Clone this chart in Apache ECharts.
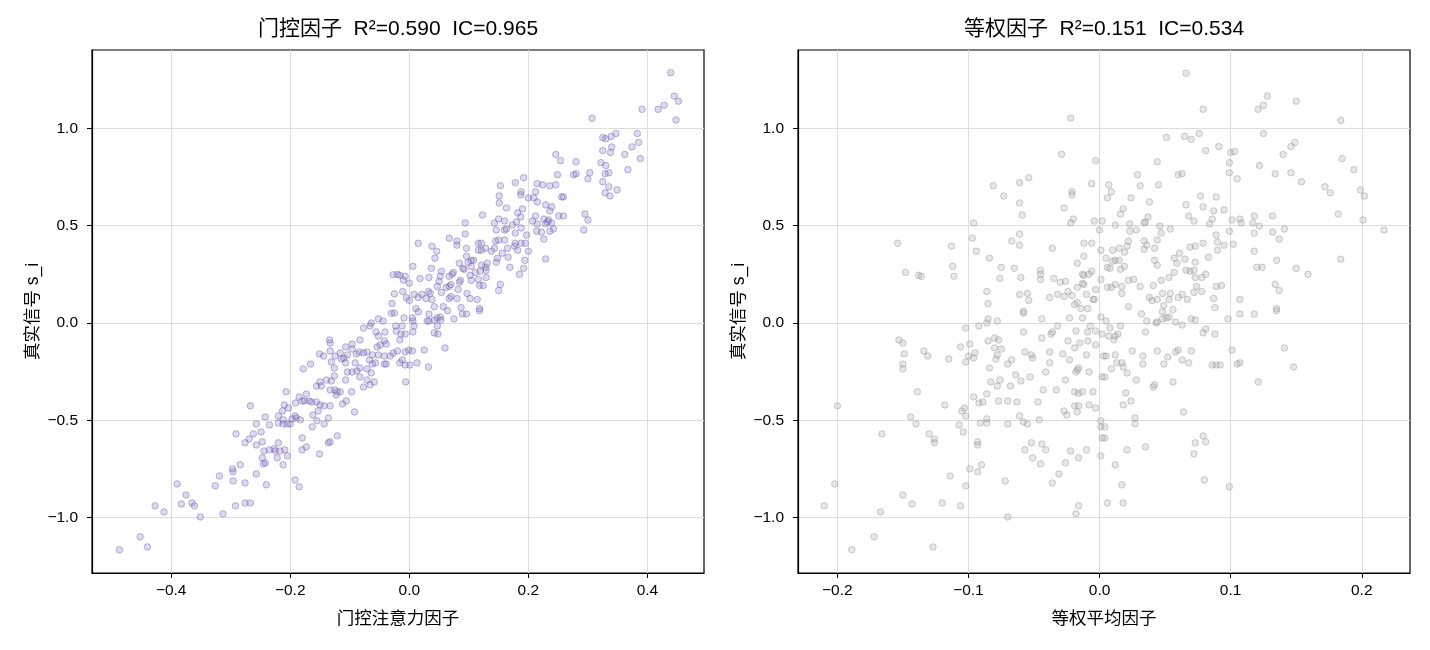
<!DOCTYPE html>
<html>
<head>
<meta charset="utf-8">
<script src="https://cdn.jsdelivr.net/npm/echarts@6/dist/echarts.min.js"></script>
<style>
  html, body { margin: 0; padding: 0; background: #fff; }
  #main { width: 1430px; height: 650px; }
</style>
</head>
<body>
<div id="main"></div>
<script>
// 左图：门控注意力因子 vs 真实信号
const gatedPoints = [
  [0.439,1.286],[0.445,1.166],[0.452,1.140],[0.448,1.043],[0.391,1.098],[0.418,1.098],[0.428,1.119],[0.307,1.052],
  [0.325,0.953],[0.330,0.947],[0.339,0.959],[0.347,0.974],[0.383,0.974],[0.374,0.905],[0.385,0.928],[0.388,0.845],
  [0.362,0.866],[0.367,0.788],[0.325,0.886],[0.340,0.905],[0.338,0.876],[0.322,0.824],[0.330,0.809],[0.335,0.772],
  [0.329,0.767],[0.325,0.726],[0.335,0.700],[0.349,0.684],[0.329,0.669],[0.337,0.653],[0.300,0.741],[0.303,0.772],
  [0.280,0.829],[0.280,0.767],[0.276,0.762],[0.254,0.834],[0.246,0.866],[0.249,0.762],[0.295,0.560],[0.300,0.529],
  [0.293,0.478],[0.256,0.648],[0.259,0.648],[0.251,0.550],[0.259,0.550],[0.246,0.710],[0.236,0.705],[0.224,0.710],
  [0.215,0.716],[0.212,0.674],[0.209,0.643],[0.200,0.643],[0.215,0.622],[0.229,0.607],[0.239,0.597],[0.236,0.576],
  [0.234,0.529],[0.226,0.534],[0.232,0.519],[0.239,0.514],[0.212,0.550],[0.207,0.524],[0.215,0.509],[0.229,0.509],
  [0.242,0.483],[0.236,0.472],[0.222,0.467],[0.214,0.472],[0.226,0.431],[0.229,0.329],[0.192,0.747],[0.178,0.721],
  [0.188,0.674],[0.187,0.659],[0.153,0.705],[0.151,0.653],[0.151,0.617],[0.163,0.591],[0.123,0.555],[0.190,0.586],
  [0.182,0.566],[0.187,0.545],[0.180,0.519],[0.173,0.503],[0.160,0.524],[0.150,0.534],[0.143,0.514],[0.163,0.483],
  [0.160,0.478],[0.146,0.478],[0.188,0.488],[0.178,0.462],[0.197,0.452],[0.094,0.514],[0.094,0.457],[0.067,0.436],
  [0.015,0.410],[0.080,0.421],[0.080,0.400],[0.038,0.395],[0.046,0.369],[0.043,0.333],[0.006,0.291],[0.096,0.384],
  [0.116,0.410],[0.121,0.410],[0.116,0.374],[0.121,0.374],[0.128,0.384],[0.138,0.369],[0.143,0.384],[0.145,0.421],
  [0.150,0.426],[0.160,0.426],[0.156,0.359],[0.166,0.338],[0.165,0.384],[0.177,0.395],[0.182,0.374],[0.178,0.410],
  [0.188,0.410],[0.195,0.410],[0.200,0.369],[0.194,0.322],[0.192,0.281],[0.185,0.250],[0.169,0.286],[0.148,0.333],
  [0.146,0.312],[0.131,0.307],[0.128,0.286],[0.129,0.271],[0.129,0.234],[0.119,0.266],[0.111,0.260],[0.104,0.291],
  [0.104,0.322],[0.108,0.322],[0.099,0.312],[0.096,0.343],[0.084,0.307],[0.121,0.297],[0.116,0.224],[0.124,0.193],
  [0.118,0.193],[0.104,0.219],[0.102,0.245],[0.092,0.276],[0.090,0.281],[0.086,0.219],[0.084,0.209],[0.082,0.172],
  [0.072,0.250],[0.074,0.260],[0.067,0.240],[0.054,0.266],[0.052,0.240],[0.050,0.214],[0.047,0.188],[0.037,0.281],
  [0.033,0.234],[0.018,0.229],[0.067,0.188],[0.062,0.183],[0.070,0.198],[0.054,0.157],[0.035,0.152],[0.032,0.162],
  [0.021,0.147],[0.008,0.147],[0.015,0.131],[0.028,0.126],[0.038,0.121],[0.067,0.126],[0.070,0.136],[0.080,0.126],
  [0.097,0.152],[0.102,0.126],[0.114,0.121],[0.087,0.079],[0.118,0.074],[0.057,0.084],[0.042,0.084],[0.011,0.074],
  [0.150,0.167],[0.153,0.198],[-0.011,0.162],[0.000,0.116],[-0.007,0.240],[-0.016,0.245],[-0.027,0.248],[-0.029,0.100],
  [-0.020,0.250],[-0.010,0.220],[0.000,0.205],[-0.025,0.150],[-0.005,0.130],[-0.030,0.050],
  [-0.487,-1.166],[-0.452,-1.099],[-0.440,-1.151],[-0.427,-0.940],[-0.412,-0.971],[-0.390,-0.827],[-0.383,-0.930],[-0.375,-0.884],
  [-0.365,-0.925],[-0.361,-0.940],[-0.351,-0.997],[-0.326,-0.837],[-0.319,-0.786],[-0.313,-0.981],[-0.297,-0.750],[-0.296,-0.765],
  [-0.296,-0.812],[-0.292,-0.940],[-0.284,-0.729],[-0.276,-0.822],[-0.276,-0.925],[-0.267,-0.925],[-0.291,-0.570],[-0.276,-0.616],
  [-0.269,-0.596],[-0.262,-0.570],[-0.267,-0.426],[-0.257,-0.776],[-0.257,-0.627],[-0.247,-0.611],[-0.249,-0.560],[-0.257,-0.519],
  [-0.242,-0.483],[-0.247,-0.693],[-0.245,-0.724],[-0.242,-0.719],[-0.240,-0.832],[-0.244,-0.658],[-0.235,-0.652],[-0.227,-0.647],
  [-0.225,-0.658],[-0.220,-0.616],[-0.217,-0.658],[-0.209,-0.652],[-0.222,-0.693],[-0.212,-0.729],[-0.205,-0.683],[-0.192,-0.807],
  [-0.185,-0.842],[-0.235,-0.524],[-0.220,-0.514],[-0.212,-0.498],[-0.220,-0.478],[-0.213,-0.452],[-0.210,-0.421],[-0.212,-0.519],
  [-0.205,-0.519],[-0.200,-0.519],[-0.197,-0.493],[-0.192,-0.478],[-0.190,-0.488],[-0.183,-0.498],[-0.203,-0.437],[-0.207,-0.354],
  [-0.191,-0.411],[-0.185,-0.380],[-0.180,-0.401],[-0.173,-0.365],[-0.176,-0.401],[-0.168,-0.401],[-0.164,-0.406],[-0.156,-0.406],
  [-0.162,-0.473],[-0.163,-0.534],[-0.155,-0.503],[-0.153,-0.452],[-0.150,-0.421],[-0.143,-0.426],[-0.136,-0.488],[-0.133,-0.426],
  [-0.143,-0.519],[-0.180,-0.591],[-0.180,-0.652],[-0.173,-0.637],[-0.151,-0.673],[-0.136,-0.616],[-0.133,-0.611],[-0.121,-0.580],
  [-0.178,-0.236],[-0.166,-0.211],[-0.156,-0.324],[-0.148,-0.324],[-0.150,-0.303],[-0.139,-0.293],[-0.131,-0.298],[-0.126,-0.272],
  [-0.126,-0.231],[-0.133,-0.344],[-0.125,-0.344],[-0.121,-0.354],[-0.123,-0.370],[-0.116,-0.354],[-0.112,-0.416],[-0.106,-0.401],
  [-0.097,-0.354],[-0.092,-0.457],[-0.107,-0.293],[-0.104,-0.252],[-0.096,-0.252],[-0.088,-0.247],[-0.083,-0.231],[-0.083,-0.277],
  [-0.071,-0.293],[-0.077,-0.329],[-0.066,-0.318],[-0.059,-0.303],[-0.064,-0.257],[-0.071,-0.236],[-0.062,-0.211],[-0.057,-0.205],
  [-0.042,-0.211],[-0.039,-0.211],[-0.151,-0.159],[-0.144,-0.170],[-0.134,-0.087],[-0.133,-0.103],[-0.133,-0.144],[-0.131,-0.200],
  [-0.125,-0.170],[-0.116,-0.154],[-0.114,-0.185],[-0.110,-0.180],[-0.107,-0.205],[-0.104,-0.164],[-0.096,-0.134],[-0.096,-0.108],
  [-0.107,-0.123],[-0.089,-0.159],[-0.091,-0.205],[-0.084,-0.149],[-0.077,-0.154],[-0.071,-0.149],[-0.067,-0.190],[-0.062,-0.164],
  [-0.052,-0.164],[-0.042,-0.170],[-0.032,-0.170],[-0.049,-0.113],[-0.039,-0.108],[-0.042,-0.092],[-0.054,-0.123],[-0.056,-0.046],
  [-0.052,-0.067],[-0.041,-0.046],[-0.052,0.021],[-0.044,0.010],[-0.077,-0.026],[-0.083,-0.087],[-0.066,-0.015],[-0.064,0.000],
  [-0.023,-0.015],[-0.022,-0.041],[-0.025,0.051],[-0.027,-0.154],[-0.020,-0.144],
  [-0.006,-0.303],[0.032,-0.226],[0.060,-0.128],[0.025,-0.139],[0.013,-0.205],[0.001,-0.216],[-0.007,-0.216],[-0.012,-0.190],
  [-0.016,-0.205],[-0.007,-0.149],[0.005,-0.144],[-0.001,-0.139],[0.048,-0.057],[0.042,-0.051],[0.047,-0.015],[0.006,-0.046],
  [0.008,-0.015],[-0.012,-0.015],[-0.007,-0.057],[-0.014,-0.057],[-0.016,-0.087],[-0.009,0.026],[0.005,0.026],[0.006,0.010],
  [0.030,0.010],[0.033,0.010],[0.042,0.015],[0.047,0.026],[0.052,0.031],[0.053,0.015],[0.075,0.021],[0.033,0.046],
  [0.089,0.046],[0.096,0.046],[0.064,0.063],[0.118,0.063],[0.015,0.057]
];

// 右图：等权平均因子 vs 真实信号
const equalPoints = [
  [-0.022,1.053],[-0.029,0.867],[-0.003,0.834],[-0.006,0.716],[-0.021,0.674],[-0.021,0.659],[-0.027,0.591],[-0.020,0.534],
  [-0.022,0.514],[-0.054,0.747],[-0.061,0.721],[-0.081,0.705],[-0.073,0.653],[-0.061,0.617],[-0.059,0.555],[-0.096,0.514],
  [-0.097,0.436],[-0.094,0.369],[-0.084,0.333],[-0.061,0.457],[-0.067,0.421],[-0.061,0.400],[-0.075,0.286],[-0.065,0.281],
  [-0.076,0.229],[-0.060,0.234],[-0.045,0.271],[-0.045,0.250],[-0.045,0.224],[-0.036,0.384],[-0.035,0.229],[-0.030,0.209],
  [-0.026,0.214],[-0.012,0.410],[-0.006,0.410],[-0.012,0.343],[-0.017,0.307],[-0.013,0.250],[-0.012,0.245],[-0.008,0.250],
  [-0.006,0.266],[-0.013,0.203],[-0.012,0.198],[-0.017,0.183],[-0.024,0.162],[-0.021,0.141],[-0.027,0.136],[-0.032,0.147],
  [-0.038,0.131],[-0.055,0.152],[-0.061,0.147],[-0.054,0.116],[-0.086,0.162],[-0.085,0.100],[-0.010,0.147],[-0.005,0.121],
  [-0.003,0.172],[-0.017,0.105],[-0.019,0.095],[-0.014,0.074],[-0.009,0.074],[0.000,0.478],[0.001,0.374],[0.001,0.224],
  [0.002,0.524],[-0.113,0.395],[-0.112,0.291],[-0.111,0.240],[-0.154,0.410],[-0.148,0.260],[-0.138,0.245],[-0.136,0.240],
  [-0.058,0.059],
  [0.066,1.284],[0.079,1.098],[0.121,1.098],[0.125,1.119],[0.128,1.166],[0.150,1.140],[0.184,1.041],[0.125,0.974],
  [0.051,0.953],[0.065,0.959],[0.070,0.943],[0.076,0.974],[0.081,0.886],[0.091,0.907],[0.100,0.876],[0.103,0.881],
  [0.099,0.824],[0.099,0.772],[0.105,0.741],[0.122,0.809],[0.134,0.767],[0.140,0.866],[0.146,0.907],[0.149,0.928],
  [0.146,0.772],[0.154,0.726],[0.185,0.845],[0.194,0.788],[0.172,0.700],[0.176,0.669],[0.199,0.684],[0.202,0.653],
  [0.182,0.560],[0.201,0.529],[0.217,0.478],[0.184,0.328],[0.044,0.829],[0.060,0.762],[0.063,0.767],[0.029,0.762],
  [0.031,0.705],[0.045,0.710],[0.007,0.710],[0.009,0.674],[0.006,0.643],[0.024,0.643],[0.038,0.622],[0.018,0.586],
  [0.016,0.560],[0.037,0.545],[0.035,0.519],[0.034,0.514],[0.023,0.509],[0.012,0.503],[0.023,0.472],[0.028,0.478],
  [0.046,0.498],[0.047,0.462],[0.054,0.483],[-0.004,0.524],[0.066,0.607],[0.068,0.550],[0.072,0.524],[0.077,0.653],
  [0.079,0.597],[0.087,0.576],[0.089,0.648],[0.095,0.581],[0.086,0.534],[0.084,0.509],[0.101,0.529],[0.107,0.534],
  [0.108,0.514],[0.099,0.472],[0.089,0.452],[0.118,0.550],[0.117,0.514],[0.122,0.498],[0.118,0.462],[0.132,0.550],
  [0.132,0.467],[0.141,0.483],[0.137,0.431],[0.118,0.369],[0.135,0.322],[0.120,0.286],[0.124,0.286],[0.150,0.281],
  [0.159,0.250],[0.134,0.198],[0.137,0.167],[0.135,0.074],[0.107,0.121],[0.090,0.416],[0.095,0.400],[0.102,0.405],
  [0.079,0.410],[0.073,0.395],[0.069,0.390],[0.083,0.338],[0.090,0.374],[0.061,0.359],[0.057,0.333],[0.059,0.307],
  [0.065,0.328],[0.073,0.312],[0.066,0.271],[0.069,0.266],[0.072,0.271],[0.073,0.234],[0.078,0.234],[0.081,0.250],
  [0.057,0.260],[0.053,0.234],[0.047,0.219],[0.041,0.193],[0.031,0.188],[0.026,0.224],[0.022,0.219],[0.017,0.188],
  [0.017,0.152],[0.012,0.198],[0.009,0.183],[0.006,0.183],[0.022,0.084],[0.038,0.131],[0.040,0.116],[0.044,0.121],
  [0.049,0.090],[0.048,0.152],[0.053,0.121],[0.054,0.152],[0.060,0.131],[0.063,0.147],[0.067,0.121],[0.072,0.157],
  [0.074,0.188],[0.078,0.162],[0.089,0.188],[0.093,0.193],[0.087,0.126],[0.088,0.079],[0.056,0.069],[0.005,0.333],
  [0.010,0.317],[0.012,0.322],[0.015,0.322],[0.006,0.286],[0.008,0.281],[0.016,0.276],[0.019,0.291],[0.010,0.374],
  [0.015,0.384],[0.019,0.364],[0.021,0.395],[0.022,0.421],[0.034,0.421],[0.034,0.379],[0.036,0.400],[0.042,0.384],
  [0.044,0.426],[0.042,0.322],[0.044,0.297],[-0.004,0.121],
  [-0.210,-0.940],[-0.202,-0.827],[-0.200,-0.426],[-0.189,-1.166],[-0.172,-1.099],[-0.167,-0.971],[-0.166,-0.570],[-0.153,-0.087],
  [-0.150,-0.103],[-0.149,-0.159],[-0.150,-0.211],[-0.150,-0.236],[-0.150,-0.884],[-0.143,-0.930],[-0.144,-0.483],[-0.140,-0.519],
  [-0.139,-0.354],[-0.134,-0.144],[-0.131,-0.170],[-0.130,-0.570],[-0.126,-0.596],[-0.126,-0.616],[-0.127,-1.151],[-0.120,-0.925],
  [-0.118,-0.421],[-0.115,-0.185],[-0.114,-0.786],[-0.107,-0.524],[-0.106,-0.123],[-0.106,-0.940],[-0.104,-0.560],[-0.105,-0.452],
  [-0.103,-0.437],[-0.102,-0.478],[-0.102,-0.200],[-0.102,-0.026],[-0.100,-0.170],[-0.102,-0.837],[-0.099,-0.750],[-0.099,-0.108],
  [-0.096,-0.180],[-0.095,-0.154],[-0.096,-0.380],[-0.093,-0.765],[-0.093,-0.611],[-0.093,-0.627],[-0.090,-0.729],[-0.092,-0.015],
  [-0.092,-0.411],[-0.089,-0.406],[-0.091,-0.514],[-0.086,-0.493],[-0.086,-0.514],[-0.086,-0.365],[-0.086,0.000],[-0.085,0.021],
  [-0.085,-0.092],[-0.084,-0.231],[-0.083,-0.303],[-0.080,-0.128],[-0.080,-0.077],[-0.079,-0.185],[-0.078,-0.164],[-0.078,0.010],
  [-0.077,-0.087],[-0.075,-0.134],[-0.078,-0.324],[-0.076,-0.293],[-0.077,-0.401],[-0.072,-0.812],[-0.070,-0.211],[-0.070,-0.401],
  [-0.070,-0.519],[-0.068,-0.324],[-0.067,-0.190],[-0.070,-0.997],[-0.064,-0.267],[-0.063,-0.406],[-0.061,-0.478],[-0.060,-0.298],
  [-0.058,0.051],[-0.058,-0.046],[-0.057,-0.149],[-0.057,-0.652],[-0.058,-0.509],[-0.055,-0.519],[-0.053,-0.277],[-0.052,-0.616],
  [-0.052,-0.164],[-0.051,-0.180],[-0.051,-0.693],[-0.047,-0.406],[-0.046,-0.498],[-0.045,-0.724],[-0.044,-0.077],[-0.044,0.021],
  [-0.044,-0.622],[-0.041,-0.652],[-0.043,-0.344],[-0.041,-0.252],[-0.038,-0.205],[-0.038,-0.149],[-0.037,-0.057],[-0.036,-0.046],
  [-0.036,-0.822],[-0.033,-0.344],[-0.032,-0.015],[-0.031,-0.776],[-0.028,-0.159],[-0.027,-0.452],[-0.026,-0.293],[-0.026,-0.719],
  [-0.025,-0.473],[-0.024,-0.092],[-0.023,0.026],[-0.023,-0.190],[-0.022,-0.658],[-0.019,-0.128],[-0.018,-0.041],[-0.018,-0.252],
  [-0.017,-0.241],[-0.016,-0.231],[-0.019,-0.354],[-0.016,-0.361],[-0.013,-0.354],[-0.019,-0.426],[-0.016,-0.426],[-0.017,-0.457],
  [-0.016,-0.693],[-0.016,-0.940],[-0.018,-0.981],[-0.015,-0.103],[-0.013,0.026],[-0.010,-0.164],[-0.010,-0.652],[-0.009,-0.092],
  [-0.009,-0.046],[-0.008,-0.252],[-0.008,-0.421],[-0.007,-0.015],[-0.005,-0.354],[-0.003,-0.113],[-0.003,-0.041],[-0.003,-0.437],
  [0.001,0.031],[0.001,-0.683],[0.001,-0.503],[0.001,-0.534],[0.002,-0.591],[0.002,-0.277],[0.003,-0.170],[0.002,-0.057],
  [0.032,0.046],[0.036,0.010],[0.043,0.000],[0.044,0.005],[0.048,0.021],[0.048,0.057],[0.051,0.026],[0.053,0.031],
  [0.058,0.005],[0.063,-0.010],[0.070,0.021],[0.073,0.015],[0.098,0.021],[0.107,0.046],[0.118,0.046],[0.135,0.063],
  [0.005,0.010],[0.008,-0.026],[0.007,-0.067],[0.011,-0.087],[0.012,-0.067],[0.014,-0.057],[0.016,-0.015],[0.035,-0.046],
  [0.079,-0.051],[0.081,-0.031],[0.088,-0.057],[0.005,-0.170],[0.012,-0.164],[0.025,-0.144],[0.033,-0.170],[0.033,-0.211],
  [0.044,-0.144],[0.052,-0.175],[0.058,-0.149],[0.060,-0.139],[0.070,-0.144],[0.063,-0.190],[0.068,-0.205],[0.049,-0.211],
  [0.013,-0.205],[0.017,-0.205],[0.009,-0.236],[0.018,-0.226],[0.021,-0.257],[0.004,-0.277],[0.028,-0.293],[0.041,-0.329],
  [0.042,-0.318],[0.056,-0.303],[0.020,-0.360],[0.018,-0.421],[0.024,-0.401],[0.027,-0.488],[0.027,-0.519],[0.064,-0.457],
  [0.086,-0.216],[0.089,-0.216],[0.092,-0.216],[0.101,-0.139],[0.141,-0.128],[0.148,-0.226],[0.105,-0.211],[0.107,-0.205],
  [0.121,-0.303],[0.004,-0.534],[0.004,-0.591],[0.079,-0.580],[0.073,-0.616],[0.081,-0.611],[0.072,-0.673],[0.035,-0.637],
  [0.021,-0.652],[0.012,-0.729],[0.017,-0.832],[0.006,-0.925],[0.018,-0.925],[0.080,-0.807],[0.099,-0.842]
];

const xTicksLeft = [-0.4, -0.2, 0.0, 0.2, 0.4];
const xTicksRight = [-0.2, -0.1, 0.0, 0.1, 0.2];
const yTicks = [-1.0, -0.5, 0.0, 0.5, 1.0];

const titles = ['门控因子  R²=0.590  IC=0.965', '等权因子  R²=0.151  IC=0.534'];
const xNames = ['门控注意力因子', '等权平均因子'];
const yName = '真实信号 s_i';

const FONT = '"Liberation Sans", Arial, "Noto Sans CJK SC", sans-serif';

let myChart = echarts.init(document.getElementById('main'));

// matplotlib 风格的负号
function fmt(v) {
    return v.toFixed(1).replace('-', '\u2212');
}

function xAxisOf(idx, ticks, min, max) {
    return {
        type: 'value',
        gridIndex: idx,
        min: min,
        max: max,
        name: xNames[idx],
        nameLocation: 'middle',
        nameGap: 37,
        nameTextStyle: { fontFamily: FONT, fontSize: 17.5, color: '#000' },
        axisLine: { show: true, onZero: false, lineStyle: { color: '#000', width: 1.2 } },
        axisTick: { show: true, length: 5, inside: false, customValues: ticks, lineStyle: { color: '#000', width: 1 } },
        axisLabel: {
            customValues: ticks,
            margin: 10,
            fontFamily: FONT, fontSize: 15.5, color: '#000',
            formatter: fmt
        },
        splitLine: { show: true, lineStyle: { color: '#dddddd', width: 1 } }
    };
}

function yAxisOf(idx) {
    return {
        type: 'value',
        gridIndex: idx,
        min: -1.285,
        max: 1.403,
        name: yName,
        nameLocation: 'middle',
        nameGap: 50,
        nameTextStyle: { fontFamily: FONT, fontSize: 17.5, color: '#000' },
        axisLine: { show: true, onZero: false, lineStyle: { color: '#000', width: 1.2 } },
        axisTick: { show: true, length: 5, inside: false, customValues: yTicks, lineStyle: { color: '#000', width: 1 } },
        axisLabel: {
            customValues: yTicks,
            margin: 14,
            fontFamily: FONT, fontSize: 15.5, color: '#000',
            formatter: fmt
        },
        splitLine: { show: true, lineStyle: { color: '#dddddd', width: 1 } }
    };
}

let option = {
    animation: false,
    backgroundColor: '#fff',
    title: [
        { text: titles[0], left: 393, top: 14, textAlign: 'center',
          textStyle: { fontFamily: FONT, fontSize: 21, fontWeight: 'normal', color: '#000' } },
        { text: titles[1], left: 1099, top: 14, textAlign: 'center',
          textStyle: { fontFamily: FONT, fontSize: 21, fontWeight: 'normal', color: '#000' } }
    ],
    grid: [
        { left: 92, top: 50, width: 612, height: 523, show: true, borderColor: '#000', borderWidth: 1.2, backgroundColor: 'transparent' },
        { left: 798, top: 50, width: 612, height: 523, show: true, borderColor: '#000', borderWidth: 1.2, backgroundColor: 'transparent' }
    ],
    xAxis: [
        xAxisOf(0, xTicksLeft, -0.533, 0.495),
        xAxisOf(1, xTicksRight, -0.23, 0.2368)
    ],
    yAxis: [yAxisOf(0), yAxisOf(1)],
    series: [{
        name: '门控',
        type: 'scatter',
        xAxisIndex: 0,
        yAxisIndex: 0,
        symbolSize: 6.5,
        data: gatedPoints,
        itemStyle: {
            color: 'rgba(130,112,185,0.33)',
            borderColor: 'rgba(112,94,172,0.55)',
            borderWidth: 1
        }
    }, {
        name: '等权',
        type: 'scatter',
        xAxisIndex: 1,
        yAxisIndex: 1,
        symbolSize: 6.5,
        data: equalPoints,
        itemStyle: {
            color: 'rgba(165,165,165,0.33)',
            borderColor: 'rgba(140,140,140,0.5)',
            borderWidth: 1
        }
    }]
};

myChart.setOption(option);
</script>
</body>
</html>
